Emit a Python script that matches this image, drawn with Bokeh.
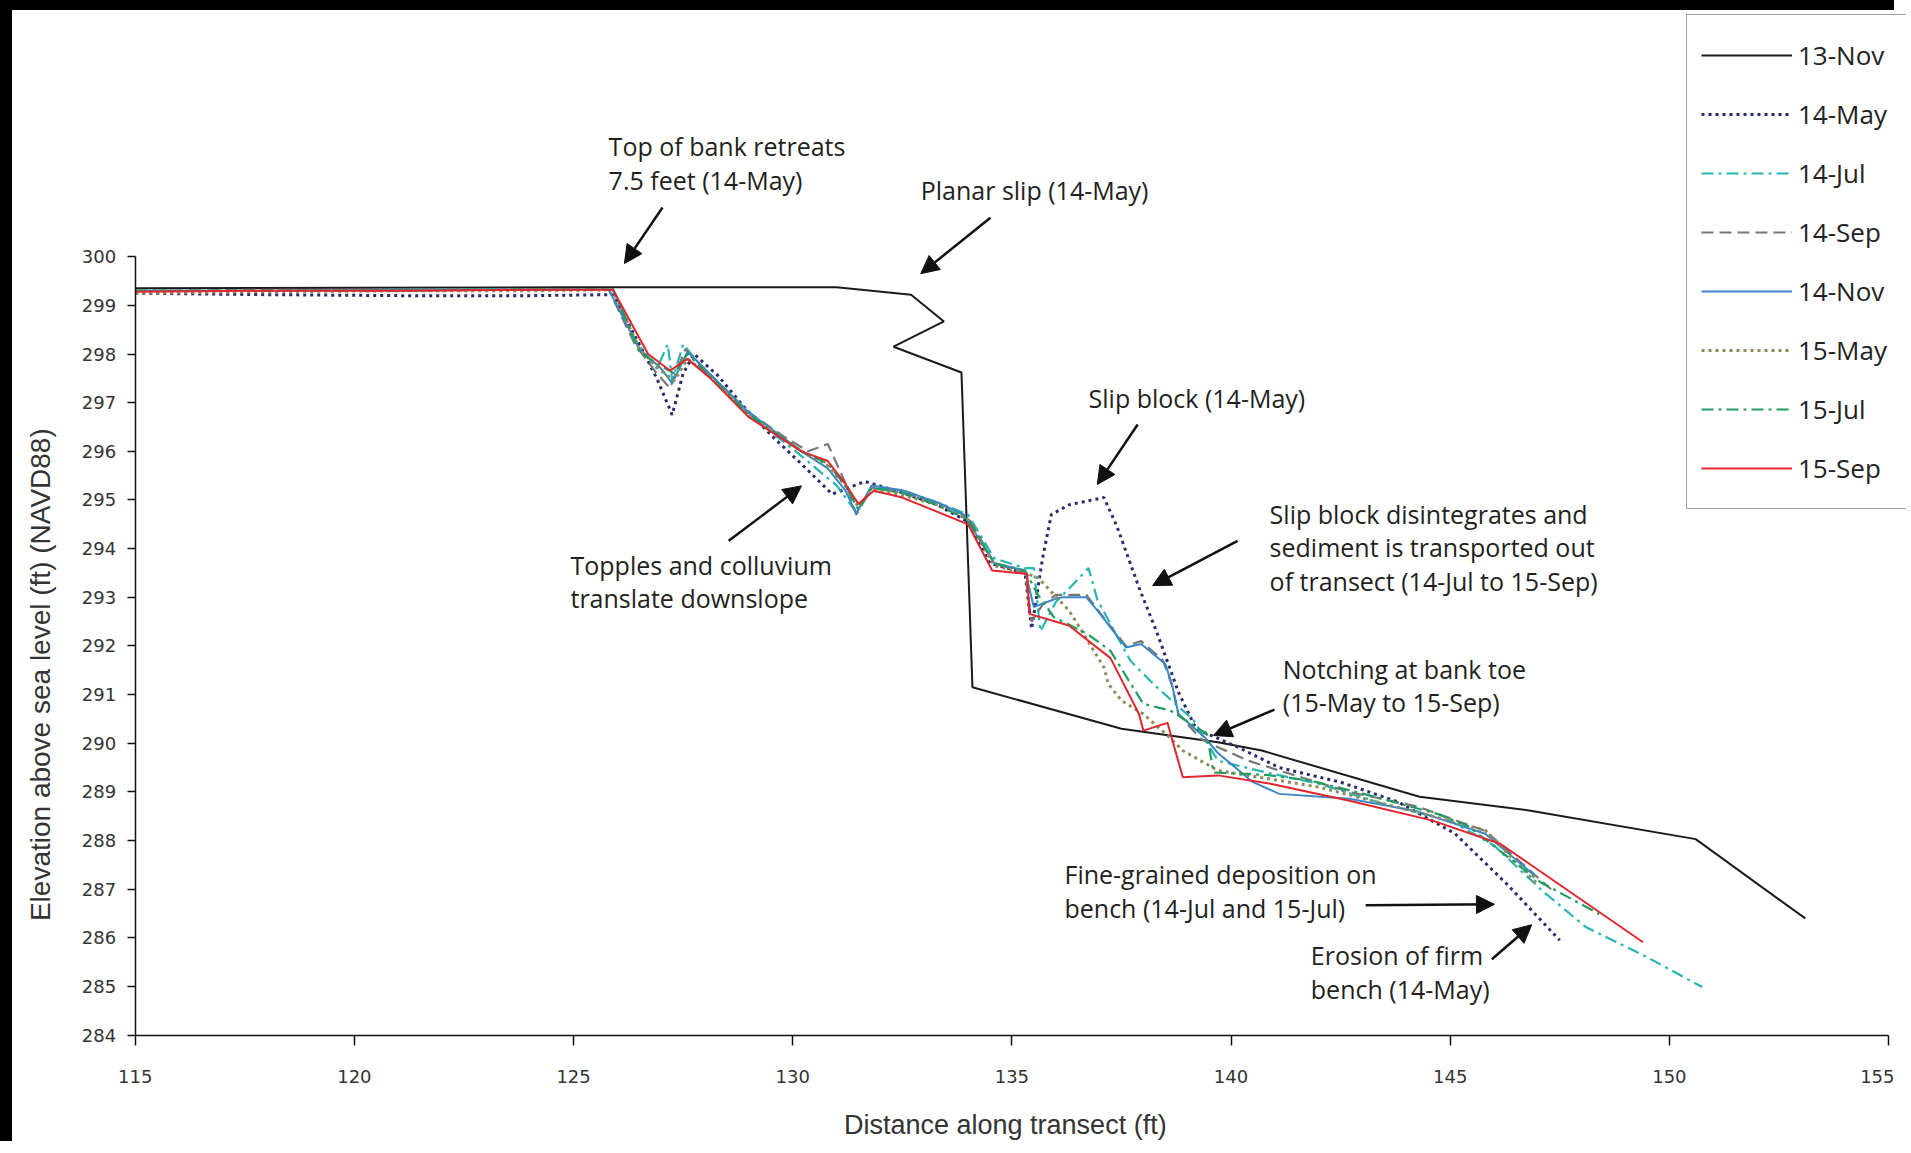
import math
from bokeh.plotting import figure
from bokeh.models import Range1d, Legend, LegendItem, Label, Arrow, NormalHead, FixedTicker
from bokeh.embed import file_html
from bokeh.resources import INLINE

# ---------------- data ----------------
x_13nov = [115.0, 120.0, 125.0, 131.0, 132.7, 133.45, 132.3, 133.85, 134.1, 137.5, 139.7, 140.7, 144.3, 146.8, 150.6, 153.1]
y_13nov = [299.35, 299.36, 299.37, 299.37, 299.22, 298.67, 298.15, 297.62, 291.15, 290.3, 290.02, 289.85, 288.9, 288.62, 288.03, 286.4]

x_14may = [115.0, 118.0, 121.0, 124.0, 125.9, 126.5, 126.9, 127.25, 127.5, 127.75, 128.3, 128.9, 129.6, 130.2, 130.9, 131.65, 132.5, 133.3, 134.0, 134.5, 135.3, 135.45, 135.7, 135.9, 136.3, 137.1, 137.4, 137.9, 138.3, 138.8, 139.2, 140.2, 141.1, 142.5, 143.8, 145.1, 146.3, 147.5]
y_14may = [299.25, 299.22, 299.2, 299.2, 299.22, 298.2, 297.5, 296.75, 297.6, 298.0, 297.55, 296.9, 296.25, 295.74, 295.12, 295.38, 295.15, 294.9, 294.55, 293.7, 293.5, 292.35, 293.8, 294.7, 294.9, 295.05, 294.45, 293.2, 292.3, 291.05, 290.3, 289.9, 289.5, 289.2, 288.8, 288.15, 287.1, 285.95]

x_14jul = [115.0, 118.0, 121.0, 124.0, 125.9, 126.4, 126.9, 127.15, 127.25, 127.5, 128.1, 129.0, 130.0, 130.6, 131.0, 131.45, 131.8, 132.5, 133.3, 134.0, 134.6, 135.3, 135.5, 135.65, 136.0, 136.4, 136.75, 136.95, 137.7, 138.25, 139.15, 139.7, 140.8, 142.0, 143.5, 145.0, 146.0, 147.1, 148.1, 149.5, 150.75]
y_14jul = [299.3, 299.3, 299.32, 299.33, 299.33, 298.3, 297.7, 298.2, 297.45, 298.2, 297.55, 296.75, 296.05, 295.6, 295.3, 294.75, 295.25, 295.2, 294.95, 294.7, 293.8, 293.6, 293.6, 292.3, 292.9, 293.27, 293.6, 292.95, 291.7, 291.2, 290.47, 289.64, 289.4, 289.17, 288.75, 288.41, 287.9, 286.97, 286.22, 285.6, 284.99]

x_14sep = [115.0, 118.0, 121.0, 124.0, 125.8, 126.4, 126.9, 127.2, 127.55, 128.1, 129.0, 129.8, 130.35, 130.8, 131.25, 131.45, 131.8, 132.5, 133.3, 134.0, 134.6, 135.3, 135.45, 135.7, 136.0, 136.7, 136.95, 137.6, 137.95, 138.45, 138.65, 138.8, 139.3, 139.7, 140.4, 141.1, 142.7, 144.25, 145.8, 147.3]
y_14sep = [299.3, 299.32, 299.3, 299.33, 299.33, 298.2, 297.6, 297.3, 298.1, 297.6, 296.8, 296.3, 296.0, 296.15, 295.25, 294.7, 295.25, 295.15, 294.95, 294.65, 293.7, 293.5, 292.5, 292.85, 293.05, 293.05, 292.75, 292.0, 292.1, 291.7, 291.2, 290.6, 290.1, 289.92, 289.64, 289.44, 289.0, 288.7, 288.2, 287.0]

x_14nov = [115.0, 118.0, 121.0, 124.0, 125.8, 126.5, 127.0, 127.25, 127.6, 128.1, 129.0, 130.2, 130.8, 131.2, 131.45, 131.8, 132.5, 133.3, 133.9, 134.6, 135.3, 135.5, 136.0, 136.15, 136.7, 136.95, 137.6, 137.95, 138.5, 138.65, 138.8, 139.4, 139.7, 140.5, 141.1, 142.7, 144.25, 145.8, 146.9]
y_14nov = [299.3, 299.3, 299.32, 299.32, 299.33, 298.1, 297.7, 297.4, 298.05, 297.6, 296.8, 296.0, 295.65, 295.2, 294.72, 295.3, 295.2, 294.95, 294.7, 293.7, 293.55, 292.8, 292.97, 293.0, 293.0, 292.73, 291.97, 292.04, 291.63, 291.22, 290.6, 290.12, 289.8, 289.2, 288.96, 288.86, 288.6, 288.14, 287.3]

x_15may = [115.0, 118.0, 121.0, 124.0, 125.9, 126.5, 127.0, 127.3, 127.6, 128.1, 129.0, 130.2, 130.8, 131.2, 131.5, 131.8, 132.5, 133.3, 134.0, 134.6, 135.3, 135.6, 136.3, 136.45, 137.1, 137.2, 137.5, 138.0, 138.5, 138.9, 139.7, 141.0, 142.0, 143.3, 144.6, 145.8, 147.0]
y_15may = [299.25, 299.28, 299.3, 299.3, 299.32, 298.1, 297.65, 297.45, 297.9, 297.55, 296.75, 296.0, 295.7, 295.3, 294.85, 295.2, 295.1, 294.9, 294.6, 293.65, 293.5, 293.4, 292.73, 292.52, 291.56, 291.22, 290.88, 290.6, 290.2, 289.85, 289.44, 289.25, 289.1, 288.8, 288.5, 288.21, 287.1]

x_15jul = [115.0, 118.0, 121.0, 124.0, 125.9, 126.5, 127.0, 127.3, 127.6, 128.1, 129.0, 130.2, 130.8, 131.2, 131.5, 131.8, 132.5, 133.3, 134.0, 134.6, 135.3, 135.58, 135.96, 136.72, 137.25, 137.48, 138.0, 138.62, 139.45, 139.6, 140.8, 141.82, 143.03, 144.7, 145.4, 147.07, 148.4]
y_15jul = [299.3, 299.3, 299.3, 299.33, 299.33, 298.05, 297.75, 297.6, 298.0, 297.55, 296.75, 296.0, 295.75, 295.3, 294.8, 295.25, 295.15, 294.9, 294.6, 293.7, 293.55, 293.07, 292.59, 292.25, 291.9, 291.56, 290.81, 290.67, 290.19, 289.4, 289.35, 289.23, 288.96, 288.55, 288.3, 287.14, 286.49]

x_15sep = [115.0, 118.0, 121.0, 124.0, 125.9, 126.7, 127.2, 127.6, 128.1, 129.0, 130.2, 130.8, 131.2, 131.5, 131.85, 132.5, 134.0, 134.55, 135.35, 135.4, 136.3, 137.25, 137.9, 138.0, 138.55, 138.9, 139.7, 140.9, 142.7, 144.6, 146.15, 149.4]
y_15sep = [299.28, 299.3, 299.3, 299.32, 299.32, 298.0, 297.66, 297.9, 297.52, 296.7, 296.0, 295.8, 295.33, 294.92, 295.19, 295.05, 294.5, 293.55, 293.48, 292.66, 292.42, 291.75, 290.6, 290.26, 290.42, 289.3, 289.34, 289.17, 288.82, 288.41, 287.93, 285.91]

series_names = ["13-Nov", "14-May", "14-Jul", "14-Sep", "14-Nov", "15-May", "15-Jul", "15-Sep"]
series_x = [x_13nov, x_14may, x_14jul, x_14sep, x_14nov, x_15may, x_15jul, x_15sep]
series_y = [y_13nov, y_14may, y_14jul, y_14sep, y_14nov, y_15may, y_15jul, y_15sep]

x_ticks = [115, 120, 125, 130, 135, 140, 145, 150, 155]
y_ticks = list(range(284, 301))

x_title = "Distance along transect (ft)"
y_title = "Elevation above sea level (ft) (NAVD88)"

# annotations: text lines (left x, middle y) and arrows (tail -> head), data units
note_lines = [
    ("Top of bank retreats", 125.80, 302.28),
    ("7.5 feet (14-May)", 125.80, 301.58),
    ("Planar slip (14-May)", 132.92, 301.38),
    ("Slip block (14-May)", 136.75, 297.10),
    ("Slip block disintegrates and", 140.88, 294.72),
    ("sediment is transported out", 140.88, 294.04),
    ("of transect (14-Jul to 15-Sep)", 140.88, 293.34),
    ("Notching at bank toe", 141.18, 291.53),
    ("(15-May to 15-Sep)", 141.18, 290.84),
    ("Topples and colluvium", 124.93, 293.67),
    ("translate downslope", 124.93, 292.99),
    ("Fine-grained deposition on", 136.20, 287.32),
    ("bench (14-Jul and 15-Jul)", 136.20, 286.62),
    ("Erosion of firm", 141.82, 285.64),
    ("bench (14-May)", 141.82, 284.96),
]
note_arrows = [
    (127.03, 301.01, 126.16, 299.86),
    (134.51, 300.80, 132.92, 299.65),
    (137.87, 296.55, 136.95, 295.32),
    (140.15, 294.16, 138.21, 293.24),
    (140.99, 290.69, 139.60, 290.16),
    (128.54, 294.16, 130.20, 295.29),
    (143.07, 286.67, 146.01, 286.69),
    (145.95, 285.56, 146.86, 286.27),
]

# ---------------- styles ----------------
styles = {
    "13-Nov": dict(line_color="#1a1a1a", line_width=2.0),
    "14-May": dict(line_color="#2b2a6b", line_width=3.0, line_dash="3 4"),
    "14-Jul": dict(line_color="#27b5b0", line_width=2.2, line_dash="12 5 3 5"),
    "14-Sep": dict(line_color="#777777", line_width=2.2, line_dash="12 6"),
    "14-Nov": dict(line_color="#3a87c8", line_width=2.0),
    "15-May": dict(line_color="#8f8b5c", line_width=3.0, line_dash="3 4"),
    "15-Jul": dict(line_color="#1e9e5e", line_width=2.2, line_dash="12 5 3 5"),
    "15-Sep": dict(line_color="#e3262e", line_width=2.0),
}

# canvas shifted by a black scan edge (12px left, 10px top); frame fills the canvas
W, H = 1894, 1141
p = figure(width=W, height=H, output_backend="svg", toolbar_location=None,
           x_range=Range1d(112.20, 155.41), y_range=Range1d(281.61, 305.06),
           min_border_left=0, min_border_right=0, min_border_top=0, min_border_bottom=0)
p.styles = {"border-top": "10px solid black", "border-left": "12px solid black"}
p.outline_line_color = None
p.grid.visible = False
p.background_fill_color = "white"
p.border_fill_color = "white"

items = []
for name, xs, ys in zip(series_names, series_x, series_y):
    r = p.line(xs, ys, **styles[name])
    items.append(LegendItem(label=name, renderers=[r]))

legend = Legend(items=items, location=(1674, 642), padding=14, spacing=7,
                glyph_width=91, glyph_height=52, label_height=52, label_width=95,
                label_standoff=6, label_text_font="Open Sans", label_text_font_size="26px",
                label_text_color="#222222", border_line_color="#444444", border_line_width=1.5,
                background_fill_color="white", background_fill_alpha=1.0)
p.add_layout(legend, "center")

# axes drawn at fixed data locations inside the frame
for ax in (p.xaxis[0], p.yaxis[0]):
    ax.axis_line_color = "#111111"
    ax.axis_line_width = 1.5
    ax.major_tick_line_color = "#111111"
    ax.major_tick_line_width = 1.5
    ax.minor_tick_line_color = None
    ax.major_tick_in = 0
    ax.major_label_text_font = "DejaVu Sans"
    ax.major_label_text_font_size = "18px"
    ax.major_label_text_color = "#333333"

p.xaxis.fixed_location = 284
p.yaxis.fixed_location = 115
p.xaxis.bounds = (115, 155)
p.yaxis.bounds = (284, 300)
p.xaxis.ticker = FixedTicker(ticks=x_ticks)
p.yaxis.ticker = FixedTicker(ticks=y_ticks)
p.xaxis.major_tick_out = 10
p.yaxis.major_tick_out = 8
p.xaxis.major_label_standoff = 25
p.yaxis.major_label_standoff = 11

# axis titles
p.add_layout(Label(x=134.85, y=282.16, text=x_title, text_font="Liberation Sans",
                   text_font_size="27px", text_color="#333333",
                   text_align="center", text_baseline="middle"))
p.add_layout(Label(x=112.84, y=291.41, text=y_title, text_font="Liberation Sans",
                   text_font_size="28px", text_color="#333333", angle=math.pi / 2,
                   text_align="center", text_baseline="middle"))

for txt, lx, ly in note_lines:
    p.add_layout(Label(x=lx, y=ly, text=txt, text_font="Open Sans", text_font_size="25px",
                       text_color="#231f20", text_align="left", text_baseline="middle"))

for xs, ys, xe, ye in note_arrows:
    p.add_layout(Arrow(end=NormalHead(size=18, fill_color="#111111", line_color="#111111"),
                       x_start=xs, y_start=ys, x_end=xe, y_end=ye,
                       line_color="#111111", line_width=2.5))

open("out.html", "w").write(file_html(p, INLINE))
